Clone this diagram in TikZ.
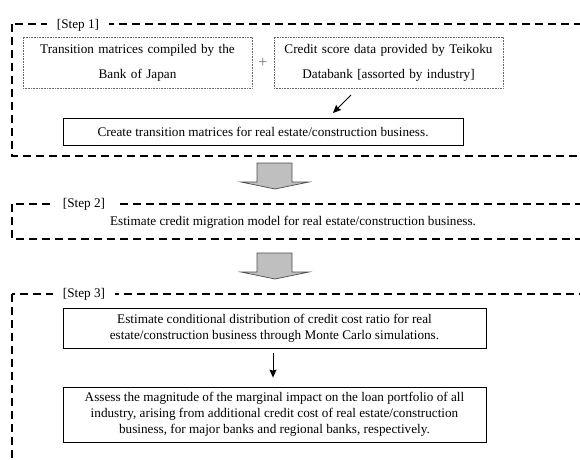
\documentclass[tikz,border=0pt]{standalone}
\usepackage{fontspec}
\setmainfont{Liberation Serif}
\usetikzlibrary{arrows.meta}
\begin{document}
\begin{tikzpicture}[x=1pt,y=-1pt,
  frame/.style={line width=1.5pt, dash pattern=on 8pt off 5pt},
  steplabel/.style={fill=white, inner xsep=10pt, inner ysep=1pt, font=\fontsize{13.2}{16}\selectfont},
  srcbox/.style={draw=black!60, densely dotted, line width=0.6pt, minimum width=229pt, minimum height=51pt, text width=220pt, align=center, inner sep=0pt, font=\fontsize{13.2}{25}\selectfont},
  mainbox/.style={draw, line width=0.8pt, align=center, inner sep=0pt, font=\fontsize{13.2}{16}\selectfont},
  plain/.style={font=\fontsize{13.2}{16}\selectfont, inner sep=1pt},
  thinarrow/.style={line width=0.9pt, -{Stealth[length=8pt,width=7pt,inset=1pt]}},
  blockarrow/.style={fill=black!25, draw=black!70, line width=0.7pt}
]
\useasboundingbox (0,0) rectangle (580,459);
\clip (0,0) rectangle (580,459);

% frames
\draw[frame] (12,24) rectangle (620,156);
\draw[frame] (12,204) rectangle (620,239);
\draw[frame] (12,294) rectangle (620,500);

% step labels
\node[steplabel] (s1) at (78,25) {[Step 1]};
\node[steplabel] (s2) at (84,204) {[Step 2]};
\node[steplabel] (s3) at (84,294) {[Step 3]};

% step 1
\node[srcbox] (boj) at (137.5,62.5) {Transition matrices compiled by the\\Bank of Japan};
\node[srcbox] (tdb) at (388.5,62.5) {Credit score data provided by Teikoku\\Databank [assorted by industry]};
\node[plain, font=\fontsize{16}{16}\selectfont, text=black!55] (plus) at (263,63) {+};
\node[mainbox, minimum width=400pt, minimum height=27pt] (create) at (263,131.5) {Create transition matrices for real estate/construction business.};
\coordinate (a1s) at (351,95);
\coordinate (a1e) at (333,113);
\draw[thinarrow] (a1s) -- (a1e);

% block arrows
\draw[blockarrow] (257,163) -- (292,163) -- (292,182) -- (309,182) -- (275,189) -- (241,182) -- (257,182) -- cycle;
\draw[blockarrow] (257,253) -- (292,253) -- (292,272) -- (309,272) -- (275,279) -- (241,272) -- (257,272) -- cycle;

% step 2
\node[plain] (mig) at (293,222) {Estimate credit migration model for real estate/construction business.};

% step 3
\node[mainbox, minimum width=423pt, minimum height=40pt] (boxA) at (274.5,328) {Estimate conditional distribution of credit cost ratio for real\\estate/construction business through Monte Carlo simulations.};
\node[mainbox, minimum width=423pt, minimum height=55pt] (boxB) at (274.5,414.5) {Assess the magnitude of the marginal impact on the loan portfolio of all\\industry, arising from additional credit cost of real estate/construction\\business, for major banks and regional banks, respectively.};
\draw[thinarrow, shorten <=5pt, shorten >=9pt] ([xshift=-1.5pt]boxA.south) -- ([xshift=-1.5pt]boxB.north);
\end{tikzpicture}
\end{document}
